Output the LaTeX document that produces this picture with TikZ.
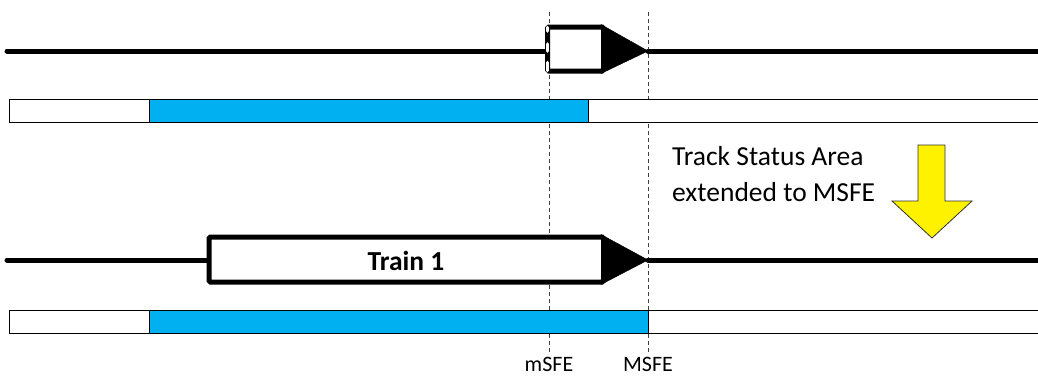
\documentclass[tikz,border=0pt]{standalone}
\usepackage{fontspec}
\setmainfont{Carlito}
\begin{document}
\begin{tikzpicture}[x=1pt,y=-1pt,
  track/.style={line width=5pt,line cap=round},
  trainbox/.style={line width=5pt,draw=black,fill=white,rounded corners=1.5pt},
  trainhead/.style={fill=black},
  bar/.style={draw=black,line width=0.9pt,fill=white},
  blueseg/.style={draw=black,line width=0.9pt,fill=tsablue},
  sfe/.style={draw=black!75,line width=1pt,dash pattern=on 4pt off 3pt},
  lbl/.style={font=\fontsize{22}{24}\selectfont,anchor=base,inner sep=0pt},
  bigarrow/.style={fill=yellow,draw=black!80,line width=0.8pt}]
\definecolor{tsablue}{HTML}{00B0F0}
\useasboundingbox (0,0) rectangle (1038,376);
\fill[white] (0,0) rectangle (1038,376);

% coordinates
\coordinate (mSFEtop) at (549,12);
\coordinate (mSFEbot) at (549,352);
\coordinate (MSFEtop) at (648,12);
\coordinate (MSFEbot) at (648,352);

% ---- SFE lines (behind everything) ----
\draw[sfe] (mSFEtop) -- (mSFEbot);
\draw[sfe] (MSFEtop) -- (MSFEbot);
\node[lbl] (mSFE) at (549,371) {mSFE};
\node[lbl] (MSFE) at (648,371) {MSFE};

% ---- top track ----
\draw[track] (7,51) -- (546,51);
\draw[track] (648,51) -- (1040,51);
\draw[trainhead] (601,24.5) -- (648,51) -- (601,73.5) -- cycle;
\draw[trainbox] (547.5,27) rectangle (603.5,71);
\draw[white,line width=3.6pt,line cap=round]
  (547.5,27.5) -- (547.5,31) (547.5,44) -- (547.5,51) (547.5,62.5) -- (547.5,70.5);

% ---- top bar ----
\draw[bar] (9,99.5) rectangle (1040,122);
\draw[blueseg] (149,99.5) rectangle (588,122);

% ---- bottom track ----
\draw[track] (7,260) -- (209,260);
\draw[track] (648,260) -- (1040,260);
\draw[trainhead] (601,234.5) -- (648,260) -- (601,284.5) -- cycle;
\draw[trainbox] (209,237) rectangle (603.5,282);
\node[font=\fontsize{27.5}{30}\selectfont\bfseries] (train) at (406,261) {Train 1};

% ---- bottom bar ----
\draw[bar] (9,310.5) rectangle (1040,333);
\draw[blueseg] (149,310.5) rectangle (648,333);

% ---- annotation ----
\node[font=\fontsize{27.5}{36.7}\selectfont,align=left,anchor=base west,inner sep=0pt] (tsa) at (672,201.7) {Track Status Area\\extended to MSFE};
\draw[bigarrow] (918,145) -- (945,145) -- (945,201) -- (972,201) -- (932,238) -- (892,201) -- (918,201) -- cycle;
\end{tikzpicture}
\end{document}
